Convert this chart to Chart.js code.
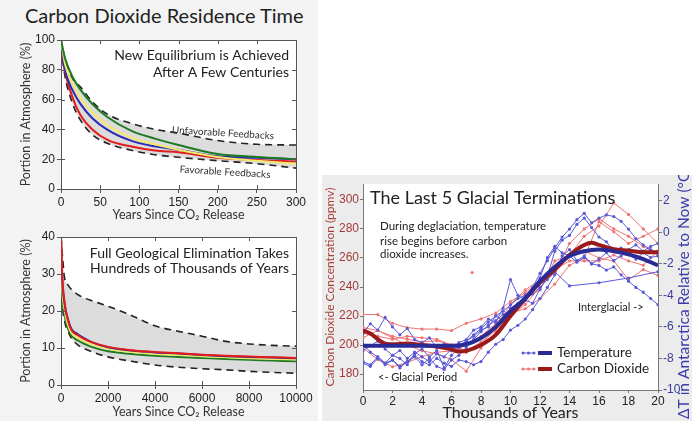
<!DOCTYPE html>
<html>
<head>
<meta charset="utf-8">
<script src="https://cdn.jsdelivr.net/npm/chart.js@4"></script>
<style>
  body { margin:0; width:692px; height:421px; position:relative; background:#fff; overflow:hidden; }
  #leftPanel { position:absolute; left:0; top:0; width:318px; height:421px; background:#f3f3f3; }
  #rightPanel { position:absolute; left:322px; top:175px; width:370px; height:246px; background:#ececec; }
  .title { position:absolute; left:25px; top:3px; font-family:Lato, sans-serif; font-size:20px; color:#222; white-space:nowrap; }
  canvas { position:absolute; }
</style>
</head>
<body>
<div id="leftPanel"><div class="title">Carbon Dioxide Residence Time</div></div>
<div id="rightPanel"></div>
<canvas id="chartTop" width="318" height="225" style="left:0;top:0"></canvas>
<canvas id="chartBottom" width="318" height="196" style="left:0;top:225px"></canvas>
<canvas id="chartGlacial" width="370" height="246" style="left:322px;top:175px"></canvas>
<script>
'use strict';

// ---- top left: first 300 years (% of CO2 still in atmosphere) ----
var shortYears  = [0, 5, 15, 25, 40, 60, 90, 120, 150, 200, 250, 300];
var shortGreen  = [100, 88, 75, 66.5, 57, 48, 39, 33.8, 29.5, 23.5, 21.5, 20];
var shortYellow = [100, 84, 70.5, 61, 51.5, 42.5, 34.5, 30, 26.3, 21.5, 19, 17];
var shortBlue   = [97, 80, 66, 57, 47.5, 39.5, 32.3, 28.6, 26.3, 22, 21, 20];
var shortRed    = [95, 79, 61, 49.5, 40, 32.8, 28.5, 25.8, 24.7, 21, 19.5, 18.5];
var shortUpper  = [100, 88, 74, 68.5, 58.5, 50, 44, 40, 37.5, 32.5, 30, 29.5];
var shortLower  = [95, 76, 57, 46, 36.5, 30.5, 26, 23, 21.3, 19, 17, 14];

// ---- bottom left: 10000 years ----
var longYears  = [0, 50, 150, 300, 450, 700, 1000, 1300, 2000, 3000, 4000, 5000, 6000, 7000, 8000, 9000, 10000];
var longRed    = [40, 30, 22.5, 17.5, 14.8, 13.5, 12.4, 11.6, 10.3, 9.4, 8.9, 8.6, 8.2, 7.9, 7.7, 7.5, 7.3];
var longBlue   = [40, 29, 22, 17.6, 15.1, 13.8, 12.6, 11.6, 10.2, 9.3, 8.8, 8.5, 8.1, 7.8, 7.6, 7.4, 7.2];
var longYellow = [40, 27, 20.5, 16.2, 14, 12.8, 11.8, 11, 9.8, 8.9, 8.4, 8.1, 7.8, 7.5, 7.2, 7.0, 6.9];
var longGreen  = [40, 25, 19, 15.3, 13.3, 12.1, 11.1, 10.3, 9.1, 8.4, 7.9, 7.6, 7.3, 7.0, 6.8, 6.6, 6.4];
var longUpper  = [40, 36, 29, 27, 25.8, 24.5, 23.5, 22.8, 21.3, 18.8, 16, 14.5, 13.2, 11.8, 11.1, 10.7, 10.5];
var longLower  = [40, 24, 17.5, 14.5, 12.6, 10.9, 9.8, 9.0, 7.6, 6.4, 5.4, 4.8, 4.4, 4.1, 3.7, 3.4, 3.2];

// ---- right: last 5 glacial terminations ----
var ppmTicks  = [180, 200, 220, 240, 260, 280, 300];
var tempTicks = [-10, -8, -6, -4, -2, 0, 2];
var xTicksKyr = [0, 2, 4, 6, 8, 10, 12, 14, 16, 18, 20];

// smoothed curves
var meanTempX = [0, 2, 4, 6, 7, 8, 9, 10, 11, 12, 13, 14, 15, 16, 17, 18, 19, 20];
var meanTemp  = [-7.2, -7.2, -7.2, -7.2, -7.1, -6.7, -6.0, -5.0, -4.2, -3.1, -2.2, -1.5, -1.2, -1.1, -1.2, -1.4, -1.7, -2.1];
var meanCo2X  = [0, 0.5, 1, 1.5, 2, 3, 4, 5, 6, 6.5, 7, 8, 9, 10, 11, 12, 13, 14, 15, 15.5, 16, 17, 18, 19, 20];
var meanCo2   = [210, 208, 204, 201, 200.5, 201, 200, 199, 197, 195.5, 196, 200, 207, 220, 232, 243, 252, 262, 269, 270.5, 269, 266, 265, 264, 264];

// individual temperature records (deg C), every 500 years
var tempX = [0, 0.5, 1, 1.5, 2, 2.5, 3, 3.5, 4, 4.5, 5, 5.5, 6, 6.5, 7, 7.5, 8, 8.5, 9, 9.5, 10,
             10.5, 11, 11.5, 12, 12.5, 13, 13.5, 14, 14.5, 15, 15.5, 16, 16.5, 17, 17.5, 18, 18.5, 19, 19.5, 20];
var temp1 = [-8.2, -8.4, -7.9, -8.3, -8.1, -8.5, -8.2, -7.8, -8.2, -8.4, -8.0, -8.3, -8.5, -8.1, -8.2, -8.4, -8.2, -7.6, -7.1, -6.8,
             -6.2, -5.9, -5.5, -4.9, -4.2, -3.5, -2.7, -1.5, -1.1, -1.8, -1.5, -2.0, -2.1, -2.4, -2.2, -2.7, -3.1, -3.5, -3.8, -4.2, -4.6];
var temp2 = [-7.5, -7.2, -6.9, -7.4, -7.8, -7.5, -8.0, -7.6, -7.9, -8.2, -7.7, -7.9, -7.4, -7.0, -6.8, -6.2, -6.0, -5.5, -5.7, -4.8,
             -3.0, -4.0, -4.3, -4.5, -3.6, -2.8, -1.2, -0.5, -0.2, 0.5, 0.9, 0.3, -0.3, -0.6, -1.2, -1.0, -1.4, -1.7, -1.3, -1.6, -1.5];
var temp3 = [-6.4, -5.8, -6.2, -5.4, -6.0, -6.5, -6.1, -6.8, -7.0, -6.7, -7.3, -7.1, -7.5, -7.2, -6.9, -6.6, -6.2, -6.0, -5.3, -5.0,
             -4.6, -4.2, -4.0, -3.5, -2.6, -1.8, -1.0, -0.3, 0.2, 0.8, 1.2, 0.6, 0.9, 1.1, 1.0, 0.7, 0.2, -0.4, -0.8, -1.1, -1.3];
var temp5 = [-7.1, -7.6, -7.9, -8.3, -7.8, -8.0, -8.4, -7.7, -7.4, -7.9, -7.5, -8.6, -7.8, -7.3, -6.9, -6.5, -6.1, -5.7, -5.3, -5.6,
             -4.8, -4.5, -4.0, -3.6, -2.9, -1.6, -0.9, -1.3, -1.5, -1.9, -1.6, -2.0, -1.7, -1.3, -1.8, -1.5, -1.1, -0.8, -1.2, -0.9, -0.7];
var temp4X = [0, 0.5, 1, 1.5, 2, 2.5, 3, 3.5, 4, 4.5, 5, 5.5, 6, 6.5, 7, 7.5, 8, 8.5, 9, 9.5, 10, 10.5, 11, 11.5, 12, 12.5, 13, 14, 16, 18, 20];
var temp4  = [-8.3, -8.5, -8.0, -8.4, -8.1, -8.6, -8.2, -7.9, -8.4, -8.0, -8.5, -8.7, -8.1, -7.8, -7.3, -6.8, -6.3, -5.9, -5.6, -5.2,
              -5.0, -4.6, -4.3, -3.9, -3.5, -3.0, -2.5, -3.4, -3.2, -2.9, -2.5];

// individual CO2 records (ppmv)
var co2X = [0, 1, 2, 3, 4, 5, 6, 7, 8, 9, 10, 11, 12, 13, 14, 15, 16, 17, 18, 19, 20];
var co2a = [221, 221, 215, 212, 211, 211, 210, 215, 218, 222, 230, 236, 245, 250, 262, 275, 282, 298, 290, 280, 270];
var co2b = [212, 210, 205, 200, 196, 194, 190, 182, 198, 208, 220, 228, 240, 250, 270, 280, 287, 280, 275, 268, 262];
var co2c = [198, 190, 185, 188, 192, 195, 196, 200, 206, 215, 225, 232, 238, 258, 262, 265, 260, 258, 245, 252, 248];
var co2d = [205, 210, 206, 204, 202, 203, 200, 196, 202, 210, 222, 225, 232, 242, 255, 260, 285, 278, 270, 275, 280];
var co2e = [208, 206, 204, 206, 205, 204, 200, 195, 200, 212, 228, 238, 245, 252, 258, 258, 258, 262, 258, 255, 265];
var strayX = [7.4];
var strayCo2 = [250];

function pts(xs, ys) {
  return ys.map(function (v, i) { return { x: xs[i], y: v }; });
}

var tickFont = { family: 'Liberation Sans', size: 12 };

// white plot area, optional box with inward ticks
function plotFrame(box) {
  return {
    id: 'plotFrame',
    beforeDraw: function (chart) {
      var a = chart.chartArea, ctx = chart.ctx;
      ctx.save();
      ctx.fillStyle = '#fff';
      ctx.fillRect(a.left, a.top, a.right - a.left, a.bottom - a.top);
      ctx.restore();
    },
    afterDraw: function (chart) {
      if (!box) return;
      var a = chart.chartArea, ctx = chart.ctx;
      var sx = chart.scales.x, sy = chart.scales.y;
      ctx.save();
      ctx.strokeStyle = '#555';
      ctx.lineWidth = 1;
      ctx.beginPath();
      ctx.moveTo(a.left, a.top + 0.5); ctx.lineTo(a.right + 0.5, a.top + 0.5); ctx.lineTo(a.right + 0.5, a.bottom);
      sx.ticks.forEach(function (t) {
        var p = Math.round(sx.getPixelForValue(t.value)) + 0.5;
        ctx.moveTo(p, a.top); ctx.lineTo(p, a.top + 4);
        ctx.moveTo(p, a.bottom); ctx.lineTo(p, a.bottom - 4);
      });
      sy.ticks.forEach(function (t) {
        var p = Math.round(sy.getPixelForValue(t.value)) + 0.5;
        ctx.moveTo(a.left, p); ctx.lineTo(a.left + 4, p);
        ctx.moveTo(a.right, p); ctx.lineTo(a.right - 4, p);
      });
      ctx.stroke();
      ctx.restore();
    }
  };
}

function notes(items) {
  return {
    id: 'notes',
    afterDraw: function (chart) {
      var ctx = chart.ctx;
      items.forEach(function (n) {
        ctx.save();
        ctx.font = n.font;
        ctx.fillStyle = n.color || '#222';
        ctx.textAlign = n.align || 'left';
        ctx.textBaseline = 'middle';
        ctx.translate(n.x, n.y);
        if (n.angle) ctx.rotate(n.angle);
        ctx.fillText(n.text, 0, 0);
        ctx.restore();
      });
    }
  };
}

function curve(label, xs, ys, color) {
  return { label: label, data: pts(xs, ys), borderColor: color, borderWidth: 2, pointRadius: 0,
           cubicInterpolationMode: 'monotone', fill: false };
}
function bound(label, xs, ys, fill) {
  return { label: label, data: pts(xs, ys), borderColor: '#222', borderWidth: 1.6, borderDash: [7, 5],
           pointRadius: 0, cubicInterpolationMode: 'monotone', fill: fill, backgroundColor: '#dcdcdc' };
}

function leftOptions(xMax, xStep, yMax, yStep, padTop, titlePadBottom) {
  return {
    responsive: false,
    animation: false,
    layout: { padding: { top: padTop, right: 22, left: 0, bottom: 0 } },
    plugins: { legend: { display: false }, tooltip: { enabled: false }, filler: { drawTime: 'beforeDatasetsDraw' } },
    scales: {
      x: {
        type: 'linear', min: 0, max: xMax,
        ticks: { stepSize: xStep, font: tickFont, color: '#222', padding: 2, maxRotation: 0,
                 callback: function (v) { return String(v); } },
        grid: { drawOnChartArea: false, tickLength: 4, color: '#555' },
        border: { color: '#555' },
        title: { display: true, text: 'Years Since CO\u2082 Release', color: '#333',
                 font: { family: 'Lato', size: 12.5 }, padding: { top: 0, bottom: titlePadBottom } },
        afterFit: function (s) { s.height = 36; }
      },
      y: {
        min: 0, max: yMax,
        ticks: { stepSize: yStep, font: tickFont, color: '#222', padding: 2 },
        grid: { drawOnChartArea: false, tickLength: 4, color: '#555' },
        border: { color: '#555' },
        title: { display: true, text: 'Portion in Atmosphere (%)', color: '#333',
                 font: { family: 'Lato', size: 12.5 }, padding: { top: 18, bottom: 0 } },
        afterFit: function (s) { s.width = 61; }
      }
    }
  };
}

new Chart(document.getElementById('chartTop'), {
  type: 'line',
  data: {
    datasets: [
      curve('Green', shortYears, shortGreen, '#1d7a22'),
      curve('Yellow', shortYears, shortYellow, '#f2e86a'),
      curve('Blue', shortYears, shortBlue, '#2a2ab4'),
      curve('Red', shortYears, shortRed, '#e21b1b'),
      bound('Unfavorable Feedbacks', shortYears, shortUpper, '+1'),
      bound('Favorable Feedbacks', shortYears, shortLower, false)
    ]
  },
  options: leftOptions(300, 50, 100, 20, 40, 3),
  plugins: [plotFrame(true), notes([
    { text: 'New Equilibrium is Achieved', x: 289, y: 55, align: 'right', font: '14px Lato' },
    { text: 'After A Few Centuries', x: 289, y: 72, align: 'right', font: '14px Lato' },
    { text: 'Unfavorable Feedbacks', x: 223, y: 133, align: 'center', font: '10px Lato', color: '#333', angle: 0.06 },
    { text: 'Favorable Feedbacks', x: 225, y: 172, align: 'center', font: '10px Lato', color: '#333', angle: 0.06 }
  ])]
});

new Chart(document.getElementById('chartBottom'), {
  type: 'line',
  data: {
    datasets: [
      curve('Red', longYears, longRed, '#e21b1b'),
      curve('Blue', longYears, longBlue, '#2a2ab4'),
      curve('Yellow', longYears, longYellow, '#f2e86a'),
      curve('Green', longYears, longGreen, '#1d7a22'),
      bound('Upper', longYears, longUpper, '+1'),
      bound('Lower', longYears, longLower, false)
    ]
  },
  options: leftOptions(10000, 2000, 40, 10, 12, 2),
  plugins: [plotFrame(true), notes([
    { text: 'Full Geological Elimination Takes', x: 289, y: 28, align: 'right', font: '14px Lato' },
    { text: 'Hundreds of Thousands of Years', x: 289, y: 43, align: 'right', font: '14px Lato' }
  ])]
});

// ---- glacial terminations ----
var thinBlue = '#5a5ad6';
var thinRed = '#f07474';

function thinTemp(ys, xs) {
  return { label: 'Temperature record', data: pts(xs || tempX, ys), yAxisID: 'y2', borderColor: thinBlue,
           borderWidth: 1, pointRadius: 1.6, pointBackgroundColor: thinBlue, pointBorderWidth: 0 };
}
function thinCo2(ys, xs) {
  return { label: 'CO2 record', data: pts(xs || co2X, ys), yAxisID: 'y', borderColor: thinRed,
           borderWidth: 1, pointRadius: 1.6, pointBackgroundColor: thinRed, pointBorderWidth: 0 };
}

var glacialLegend = {
  id: 'glacialLegend',
  afterDraw: function (chart) {
    var ctx = chart.ctx;
    var rows = [
      { text: 'Temperature', thin: thinBlue, thick: '#2b2b96', y: 178 },
      { text: 'Carbon Dioxide', thin: thinRed, thick: '#9a1a1a', y: 194 }
    ];
    ctx.save();
    rows.forEach(function (r) {
      ctx.strokeStyle = r.thin; ctx.fillStyle = r.thin; ctx.lineWidth = 1;
      ctx.beginPath(); ctx.moveTo(200, r.y); ctx.lineTo(213, r.y); ctx.stroke();
      [201, 206.5, 212].forEach(function (px) { ctx.beginPath(); ctx.arc(px, r.y, 1.5, 0, Math.PI * 2); ctx.fill(); });
      ctx.strokeStyle = r.thick; ctx.lineWidth = 4;
      ctx.beginPath(); ctx.moveTo(216, r.y); ctx.lineTo(230, r.y); ctx.stroke();
      ctx.fillStyle = '#222'; ctx.font = '13.5px Lato'; ctx.textBaseline = 'middle'; ctx.textAlign = 'left';
      ctx.fillText(r.text, 235, r.y);
    });
    // right axis title, reading upwards
    ctx.translate(362, 244);
    ctx.rotate(-Math.PI / 2);
    ctx.fillStyle = '#3c3caa'; ctx.font = '15.5px Lato';
    ctx.fillText('\u0394T in Antarctica Relative to Now (\u00B0C)', 0, 0);
    ctx.restore();
  }
};

new Chart(document.getElementById('chartGlacial'), {
  type: 'line',
  data: {
    datasets: [
      { label: 'Temperature', data: pts(meanTempX, meanTemp), yAxisID: 'y2', borderColor: '#2b2b96', borderWidth: 4,
        pointRadius: 0, cubicInterpolationMode: 'monotone' },
      { label: 'Carbon Dioxide', data: pts(meanCo2X, meanCo2), yAxisID: 'y', borderColor: '#9a1a1a', borderWidth: 4,
        pointRadius: 0, cubicInterpolationMode: 'monotone' },
      thinTemp(temp1), thinTemp(temp2), thinTemp(temp3), thinTemp(temp4, temp4X), thinTemp(temp5),
      thinCo2(co2a), thinCo2(co2b), thinCo2(co2c), thinCo2(co2d), thinCo2(co2e),
      Object.assign(thinCo2(strayCo2, strayX), { showLine: false })
    ]
  },
  options: {
    responsive: false,
    animation: false,
    layout: { padding: { top: 9, right: 0, left: 0, bottom: 0 } },
    plugins: { legend: { display: false }, tooltip: { enabled: false } },
    scales: {
      x: {
        type: 'linear', min: 0, max: 20,
        afterBuildTicks: function (s) { s.ticks = xTicksKyr.map(function (v) { return { value: v }; }); },
        ticks: { font: tickFont, color: '#222', padding: 1, maxRotation: 0 },
        grid: { drawOnChartArea: false, tickLength: 3, color: '#777' },
        border: { color: '#777' },
        title: { display: true, text: 'Thousands of Years', color: '#222',
                 font: { family: 'Lato', size: 16, lineHeight: 1 }, padding: { top: 0, bottom: 0 } },
        afterFit: function (s) { s.height = 31; }
      },
      y: {
        position: 'left', min: 169, max: 311,
        afterBuildTicks: function (s) { s.ticks = ppmTicks.map(function (v) { return { value: v }; }); },
        ticks: { font: tickFont, color: '#a33a3a', padding: 1 },
        grid: { drawOnChartArea: false, tickLength: 3, color: '#777' },
        border: { color: '#777' },
        title: { display: true, text: 'Carbon Dioxide Concentration (ppmv)', color: '#a8403a',
                 font: { family: 'Lato', size: 12 }, padding: { top: 1, bottom: 0 } },
        afterFit: function (s) { s.width = 41; }
      },
      y2: {
        position: 'right', min: -10, max: 3.06,
        afterBuildTicks: function (s) { s.ticks = tempTicks.map(function (v) { return { value: v }; }); },
        ticks: { font: tickFont, color: '#3a3a9a', padding: 1 },
        grid: { drawOnChartArea: false, tickLength: 4, color: '#777' },
        border: { color: '#777' },
        afterFit: function (s) { s.width = 34; }
      }
    }
  },
  plugins: [plotFrame(false), notes([
    { text: 'The Last 5 Glacial Terminations', x: 48, y: 23, font: '18px Lato' },
    { text: 'During deglaciation, temperature', x: 58, y: 51, font: '11.5px Lato' },
    { text: 'rise begins before carbon', x: 58, y: 66, font: '11.5px Lato' },
    { text: 'dioxide increases.', x: 58, y: 79, font: '11.5px Lato' },
    { text: '<- Glacial Period', x: 56, y: 202, font: '11px Lato' },
    { text: 'Interglacial ->', x: 256, y: 132, font: '11px Lato' }
  ]), glacialLegend]
});
</script>
</body>
</html>
